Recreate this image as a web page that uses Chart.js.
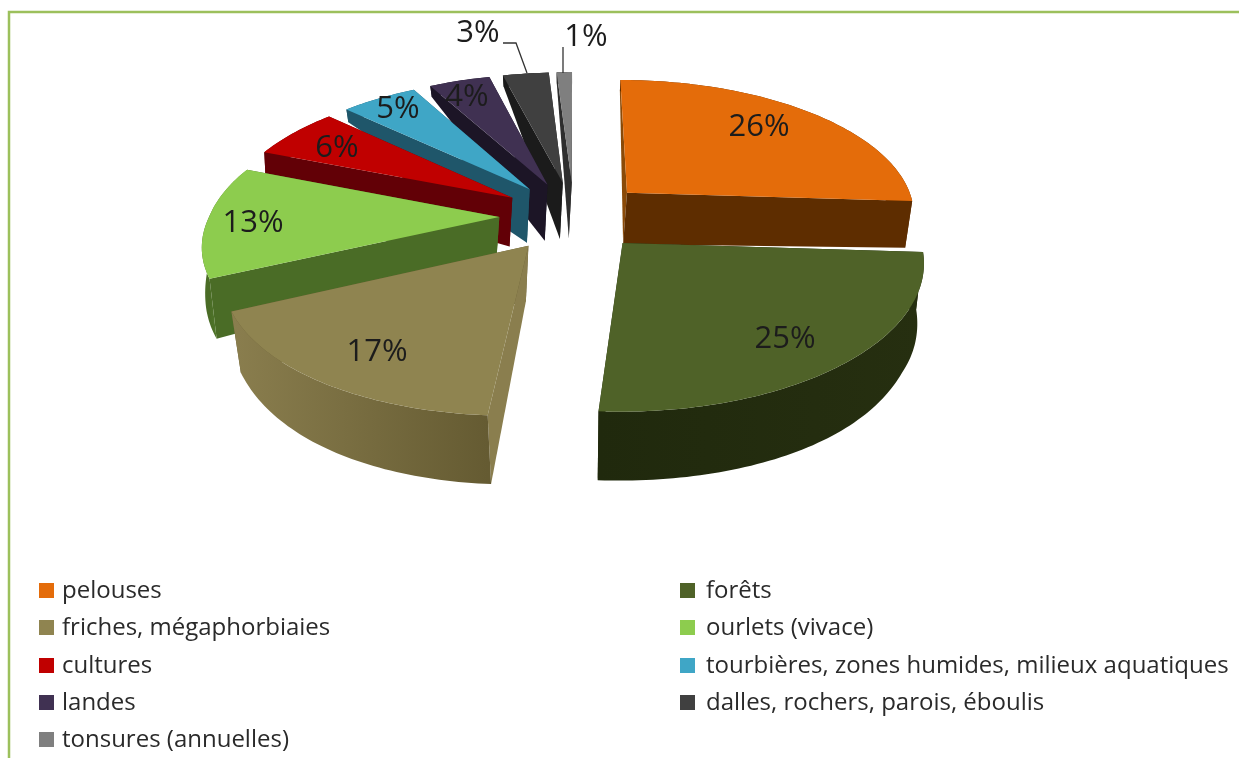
<!DOCTYPE html>
<html lang="fr">
<head>
<meta charset="utf-8">
<title>Répartition des milieux</title>
<script src="https://cdn.jsdelivr.net/npm/chart.js@4/dist/chart.umd.min.js"></script>
<style>
  html, body { margin: 0; padding: 0; background: #fff; overflow: hidden; }
  canvas { display: block; }
</style>
</head>
<body>
<canvas id="pie" width="1239" height="758"></canvas>
<script>
// Part of each habitat type, in percent.
const categories = [
  "pelouses", "forêts", "friches, mégaphorbiaies", "ourlets (vivace)", "cultures",
  "tourbières, zones humides, milieux aquatiques", "landes",
  "dalles, rochers, parois, éboulis", "tonsures (annuelles)"
];
const shares = [26, 25, 17, 13, 6, 5, 4, 3, 1];
const topColors = ["#e46c0a", "#4f6228", "#8f8450", "#8dcc4e", "#c00000", "#3fa6c6", "#403152", "#404040", "#7f7f7f"];
const wallNear = ["#5e2d00", "#262f10", "#655b32", "#4a6c26", "#620006", "#1f566a", "#1c1526", "#1b1b1b", "#2e2e2e"];
const wallFar  = ["#8a4a08", "#20290d", "#8a7e4e", "#4a6c26", "#620006", "#1f566a", "#1c1526", "#1b1b1b", "#2e2e2e"];
const rimShade = ["#5e2d00", "#20290d", "#8a7e4e", "#6aa63a", "#620006", "#1f566a", "#1c1526", "#1b1b1b", "#2e2e2e"];

// Where each percentage sits on the page, and the two leader lines.
const labelAnchors = [[759,127],[785,339],[377,352],[253,223],[337,148],[398,109],[467,97],[478,33],[586,37]];
const leaders = [[[503,43],[516,43],[527,73]], [[563,47],[563,73]]];

const EXPLODE = 0.257;

// Page height of the underside of the pie, by distance along the depth axis.
const lowerDepths = [[-1.4,520],[-1.2,482],[-0.64,373],[-0.26,310],[0,262],[0.11,248],[0.25,240],[0.5,178],[0.89,122],[1.115,97],[1.4,70]];

function lowerY(v) {
  for (let k = 1; k < lowerDepths.length; k++) {
    const [v0, y0] = lowerDepths[k - 1], [v1, y1] = lowerDepths[k];
    if (v <= v1) return y0 + (y1 - y0) * (v - v0) / (v1 - v0);
  }
  return lowerDepths[lowerDepths.length - 1][1];
}

// Tilted pie plane: unit-circle coordinates to page pixels.
function project(u, v, lower) {
  const w = 1 + 0.146 * v;
  const front = Math.min(v, 0);
  if (lower) {
    const rear = Math.min(Math.max(v, 0), 1);
    return [570 + 287 * u / w + 8 * front + 12 * Math.min(u, 0) * front + 4 * rear, lowerY(v)];
  }
  return [574 + 290 * u / w + 11 * front, 216 - 135.5 * v / w];
}

function fillPoly(ctx, pts, color) {
  ctx.beginPath();
  pts.forEach((p, i) => i ? ctx.lineTo(p[0], p[1]) : ctx.moveTo(p[0], p[1]));
  ctx.closePath();
  ctx.fillStyle = color;
  ctx.fill();
}

function drawSlice(ctx, arc, i) {
  const a0 = arc.startAngle + Math.PI / 2, a1 = arc.endAngle + Math.PI / 2;
  const mid = (a0 + a1) / 2;
  const bu = EXPLODE * Math.sin(mid), bv = EXPLODE * Math.cos(mid);
  const steps = Math.max(2, Math.ceil((a1 - a0) / 0.02));
  const rim = [];
  for (let k = 0; k <= steps; k++) {
    const t = a0 + (a1 - a0) * k / steps;
    rim.push([bu + Math.sin(t), bv + Math.cos(t)]);
  }
  const up = p => project(p[0], p[1]);
  const down = p => project(p[0], p[1], true);
  const apex = [bu, bv];

  // Straight cut faces, rear one first.
  const cuts = [
    { edge: rim[0], color: wallFar[i] },
    { edge: rim[steps], color: wallNear[i] }
  ].sort((a, b) => b.edge[1] - a.edge[1]);
  cuts.forEach(c => fillPoly(ctx, [up(apex), up(c.edge), down(c.edge), down(apex)], c.color));

  // Curved outer face, shaded across its width.
  const xa = up(rim[0])[0], xb = up(rim[steps])[0];
  const shade = ctx.createLinearGradient(xa, 0, xb === xa ? xa + 1 : xb, 0);
  shade.addColorStop(0, wallNear[i]);
  shade.addColorStop(1, rimShade[i]);
  fillPoly(ctx, [...rim.map(up), ...rim.slice().reverse().map(down)], shade);

  // Top face.
  fillPoly(ctx, [up(apex), ...rim.map(up)], topColors[i]);
}

const tiltedPie = {
  id: "tiltedPie",
  // The pie is painted here, on the angles Chart.js worked out from the data.
  beforeDatasetsDraw(chart) {
    const { ctx } = chart;
    const arcs = chart.getDatasetMeta(0).data;
    const depthOf = i => Math.cos((arcs[i].startAngle + arcs[i].endAngle) / 2 + Math.PI / 2);
    const order = arcs.map((_, i) => i).sort((a, b) => depthOf(b) - depthOf(a));
    ctx.save();
    order.forEach(i => drawSlice(ctx, arcs[i], i));

    ctx.textAlign = "center";
    ctx.textBaseline = "middle";
    ctx.font = "500 31px 'Open Sans'";
    ctx.fillStyle = "#1c1c1c";
    shares.forEach((v, i) => ctx.fillText(v + "%", labelAnchors[i][0], labelAnchors[i][1]));

    ctx.strokeStyle = "#333333";
    ctx.lineWidth = 1.3;
    leaders.forEach(line => {
      ctx.beginPath();
      line.forEach((p, k) => k ? ctx.lineTo(p[0], p[1]) : ctx.moveTo(p[0], p[1]));
      ctx.stroke();
    });
    ctx.restore();
    return false;
  },
  // Two-column legend and the thin frame.
  afterDraw(chart) {
    const { ctx } = chart;
    ctx.save();
    ctx.strokeStyle = "#9cc05c";
    ctx.lineWidth = 2.5;
    ctx.beginPath();
    ctx.moveTo(9, 758);
    ctx.lineTo(9, 12);
    ctx.lineTo(1239, 12);
    ctx.stroke();

    const rows = [591, 628, 666, 703, 740];
    ctx.font = "24px 'Open Sans'";
    ctx.textBaseline = "middle";
    ctx.textAlign = "left";
    categories.forEach((name, i) => {
      const col = i % 2, y = rows[Math.floor(i / 2)];
      const sx = col ? 680 : 39, tx = col ? 706 : 62;
      ctx.fillStyle = topColors[i];
      ctx.fillRect(sx, y - 8, 15, 15);
      ctx.fillStyle = "#2a2a2a";
      ctx.fillText(name, tx, y);
    });
    ctx.restore();
  }
};

new Chart(document.getElementById("pie"), {
  type: "pie",
  data: {
    labels: categories,
    datasets: [{ data: shares, backgroundColor: topColors, borderWidth: 0 }]
  },
  options: {
    responsive: false,
    animation: false,
    rotation: 0,
    plugins: { legend: { display: false }, tooltip: { enabled: false } }
  },
  plugins: [tiltedPie]
});
</script>
</body>
</html>
